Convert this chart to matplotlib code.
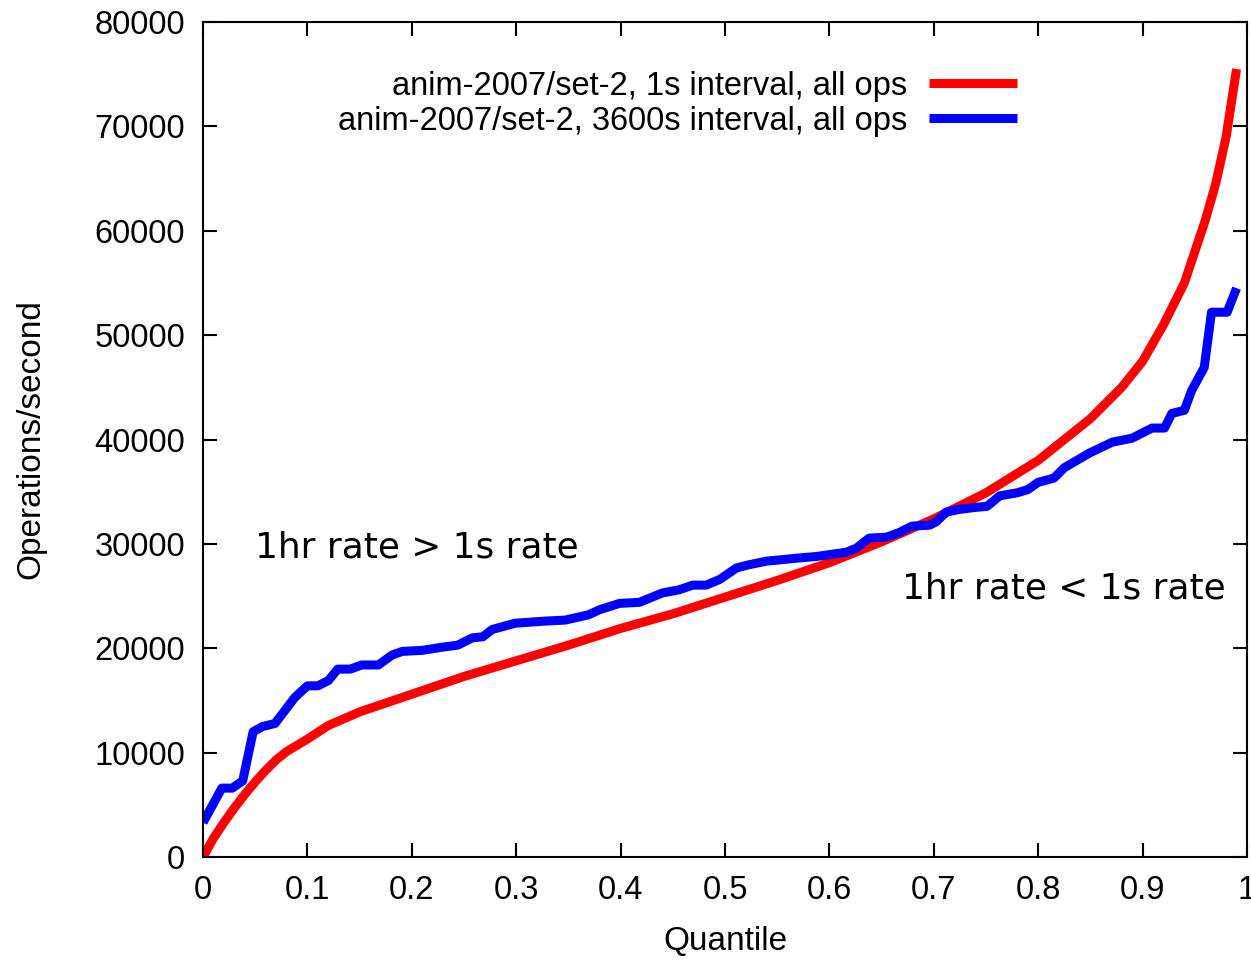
import matplotlib.pyplot as plt

# quantile vs ops/sec
q_1s = [0, 0.01, 0.02, 0.03, 0.04, 0.05, 0.06, 0.07, 0.08, 0.1, 0.12, 0.15,
        0.2, 0.25, 0.3, 0.35, 0.4, 0.45, 0.5, 0.55, 0.6, 0.65, 0.7, 0.75,
        0.8, 0.85, 0.88, 0.9, 0.92, 0.94, 0.96, 0.97, 0.98, 0.99]
ops_1s = [0, 1800, 3300, 4700, 6000, 7200, 8300, 9300, 10100, 11300, 12600, 13900,
          15600, 17300, 18800, 20300, 21900, 23300, 24900, 26500, 28200, 30200, 32400, 34900,
          38000, 42000, 45000, 47500, 51000, 55000, 61000, 64500, 69000, 75500]

q_3600s = [0, 0.018, 0.028, 0.038, 0.048, 0.057, 0.069, 0.088, 0.1, 0.11, 0.12,
           0.129, 0.141, 0.152, 0.168, 0.181, 0.191, 0.21, 0.229, 0.244, 0.258,
           0.268, 0.277, 0.299, 0.327, 0.347, 0.369, 0.38, 0.399, 0.418, 0.44,
           0.456, 0.469, 0.482, 0.495, 0.511, 0.523, 0.54, 0.571, 0.588, 0.616,
           0.626, 0.638, 0.655, 0.667, 0.679, 0.696, 0.702, 0.712, 0.724, 0.74,
           0.751, 0.763, 0.78, 0.79, 0.8, 0.815, 0.825, 0.849, 0.871, 0.89,
           0.909, 0.921, 0.928, 0.94, 0.947, 0.959, 0.966, 0.981, 0.99]
ops_3600s = [3300, 6600, 6600, 7300, 12000, 12500, 12800, 15300, 16400, 16400, 16900,
             18000, 18000, 18400, 18400, 19350, 19700, 19800, 20100, 20300, 21000,
             21100, 21800, 22400, 22600, 22700, 23200, 23700, 24300, 24400, 25300,
             25600, 26050, 26050, 26600, 27700, 28000, 28350, 28650, 28800, 29200,
             29600, 30550, 30650, 31100, 31700, 31800, 32100, 33050, 33300, 33500,
             33600, 34600, 34900, 35200, 35900, 36300, 37300, 38700, 39750, 40130,
             41100, 41100, 42500, 42800, 44700, 46900, 52200, 52200, 54500]

xticks = [0, 0.1, 0.2, 0.3, 0.4, 0.5, 0.6, 0.7, 0.8, 0.9, 1]
xticklabels = ["0", "0.1", "0.2", "0.3", "0.4", "0.5", "0.6", "0.7", "0.8", "0.9", "1"]
yticks = [0, 10000, 20000, 30000, 40000, 50000, 60000, 70000, 80000]

plt.rcParams['font.family'] = ['Liberation Sans', 'DejaVu Sans']

fig = plt.figure(figsize=(12.51, 9.6), dpi=100)
ax = fig.add_axes([0.1623, 0.1073, 0.8345, 0.8697])

ax.plot(q_1s, ops_1s, color="#ff0000", lw=6.5, solid_capstyle="butt",
        label="anim-2007/set-2, 1s interval, all ops")
ax.plot(q_3600s, ops_3600s, color="#0000ff", lw=6.5, solid_capstyle="butt",
        label="anim-2007/set-2, 3600s interval, all ops")

ax.set_xlim(0, 1)
ax.set_ylim(0, 80000)
ax.set_xticks(xticks)
ax.set_xticklabels(xticklabels)
ax.set_yticks(yticks)
ax.tick_params(direction="in", length=10, width=1.5, top=True, right=True,
               labelsize=23.5, pad=13)
for s in ax.spines.values():
    s.set_linewidth(1.5)

ax.set_xlabel("Quantile", fontsize=24)
ax.set_ylabel("Operations/second", fontsize=24)
ax.xaxis.set_label_coords(0.5, -0.083)
ax.yaxis.set_label_coords(-0.15, 0.5)

ax.legend(loc="upper right", bbox_to_anchor=(0.808, 0.977), frameon=False,
          markerfirst=False, fontsize=23.5, handlelength=2.7, handletextpad=0.67,
          labelspacing=0.12)

ax.text(0.0498, 28650, "1hr rate > 1s rate", fontsize=25.8, family="DejaVu Sans",
        va="baseline")
ax.text(0.6695, 24800, "1hr rate < 1s rate", fontsize=25.8, family="DejaVu Sans",
        va="baseline")

fig.savefig("out.png")
